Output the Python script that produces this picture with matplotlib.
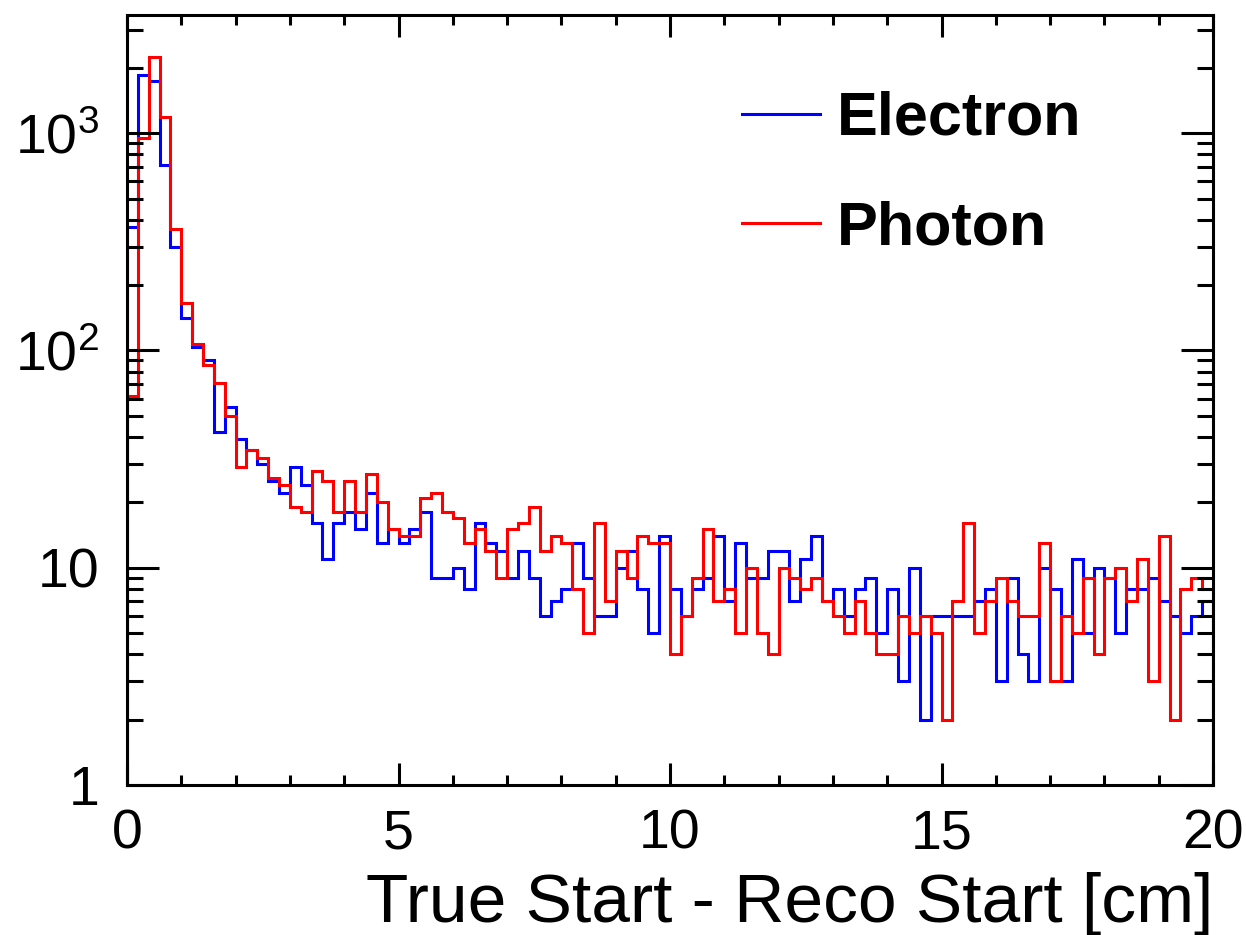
import matplotlib
matplotlib.use("Agg")
import matplotlib.pyplot as plt
import numpy as np
from matplotlib.ticker import FixedLocator, FixedFormatter, MultipleLocator

plt.rcParams['font.family'] = ['Liberation Sans', 'DejaVu Sans']
plt.rcParams['mathtext.fontset'] = 'custom'
plt.rcParams['mathtext.rm'] = 'Liberation Sans'

# 100 bins, 0 - 20 cm
bin_edges = np.linspace(0, 20, 101)

electron = [
    372, 1855, 1730, 713, 300, 141, 104, 90, 42, 55,
    39, 35, 30, 25, 22, 29, 24, 16, 11, 16,
    18, 15, 22, 13, 15, 13, 15, 18, 9, 9,
    10, 8, 16, 13, 12, 9, 12, 9, 6, 7,
    8, 13, 9, 6, 6, 10, 12, 8, 5, 14,
    8, 6, 8, 9, 14, 7, 13, 9, 9, 12,
    12, 7, 11, 14, 7, 8, 6, 8, 9, 5,
    8, 3, 10, 2, 6, 6, 6, 6, 7, 8,
    3, 9, 4, 3, 10, 8, 3, 11, 5, 10,
    9, 5, 8, 8, 9, 7, 6, 5, 6, 7,
]

photon = [
    62, 947, 2240, 1184, 364, 166, 107, 86, 71, 50,
    29, 35, 32, 26, 24, 19, 18, 28, 25, 18,
    25, 18, 27, 20, 15, 14, 14, 21, 22, 18,
    17, 13, 15, 12, 9, 15, 16, 19, 12, 14,
    13, 8, 5, 16, 7, 12, 9, 14, 13, 13,
    4, 6, 9, 15, 7, 8, 5, 10, 5, 4,
    10, 9, 8, 9, 7, 6, 5, 7, 5, 4,
    4, 6, 5, 6, 5, 2, 7, 16, 5, 7,
    9, 7, 6, 6, 13, 3, 6, 5, 9, 4,
    9, 10, 7, 11, 3, 14, 2, 8, 9, 8,
]

series_names = ['Electron', 'Photon']
series_colors = ['blue', 'red']

y_ticks = [1, 10, 100, 1000]
y_tick_labels = ['1', '10', r'$\mathdefault{10^{2}}$', r'$\mathdefault{10^{3}}$']

W, H = 1246, 935
fig = plt.figure(figsize=(W / 100, H / 100), dpi=100)
ax = fig.add_axes([127 / W, 1 - 785 / H, (1213 - 127) / W, (785 - 15) / H])

for vals, name, col in zip([electron, photon], series_names, series_colors):
    ax.stairs(vals, bin_edges, baseline=0.5, color=col, linewidth=2.2, label=name)

ax.set_yscale('log')
ax.set_xlim(0, 20)
ax.set_ylim(1, 3500)

ax.yaxis.set_major_locator(FixedLocator(y_ticks))
ax.yaxis.set_major_formatter(FixedFormatter(y_tick_labels))
ax.xaxis.set_major_locator(MultipleLocator(5))
ax.xaxis.set_minor_locator(MultipleLocator(1))

for s in ax.spines.values():
    s.set_linewidth(2.2)

ax.tick_params(axis='both', which='both', direction='in', top=True, right=True, width=2.2)
ax.tick_params(axis='y', which='major', length=23, pad=20, labelsize=40)
ax.tick_params(axis='y', which='minor', length=11.5)
ax.tick_params(axis='x', which='major', length=16, pad=17, labelsize=40)
ax.tick_params(axis='x', which='minor', length=7.5)

ax.set_xlabel('True Start - Reco Start [cm]', fontsize=50, loc='right', labelpad=8)

# legend, top-left corner placed in axes fraction
leg = ax.legend(loc='upper left', bbox_to_anchor=(0.5663, 0.9013),
                frameon=False, handlelength=1.28, handletextpad=0.28,
                labelspacing=0.86, borderaxespad=0.0, borderpad=0.0,
                prop={'family': 'Liberation Sans', 'weight': 'bold', 'size': 44})

fig.savefig('out.png', dpi=100)
